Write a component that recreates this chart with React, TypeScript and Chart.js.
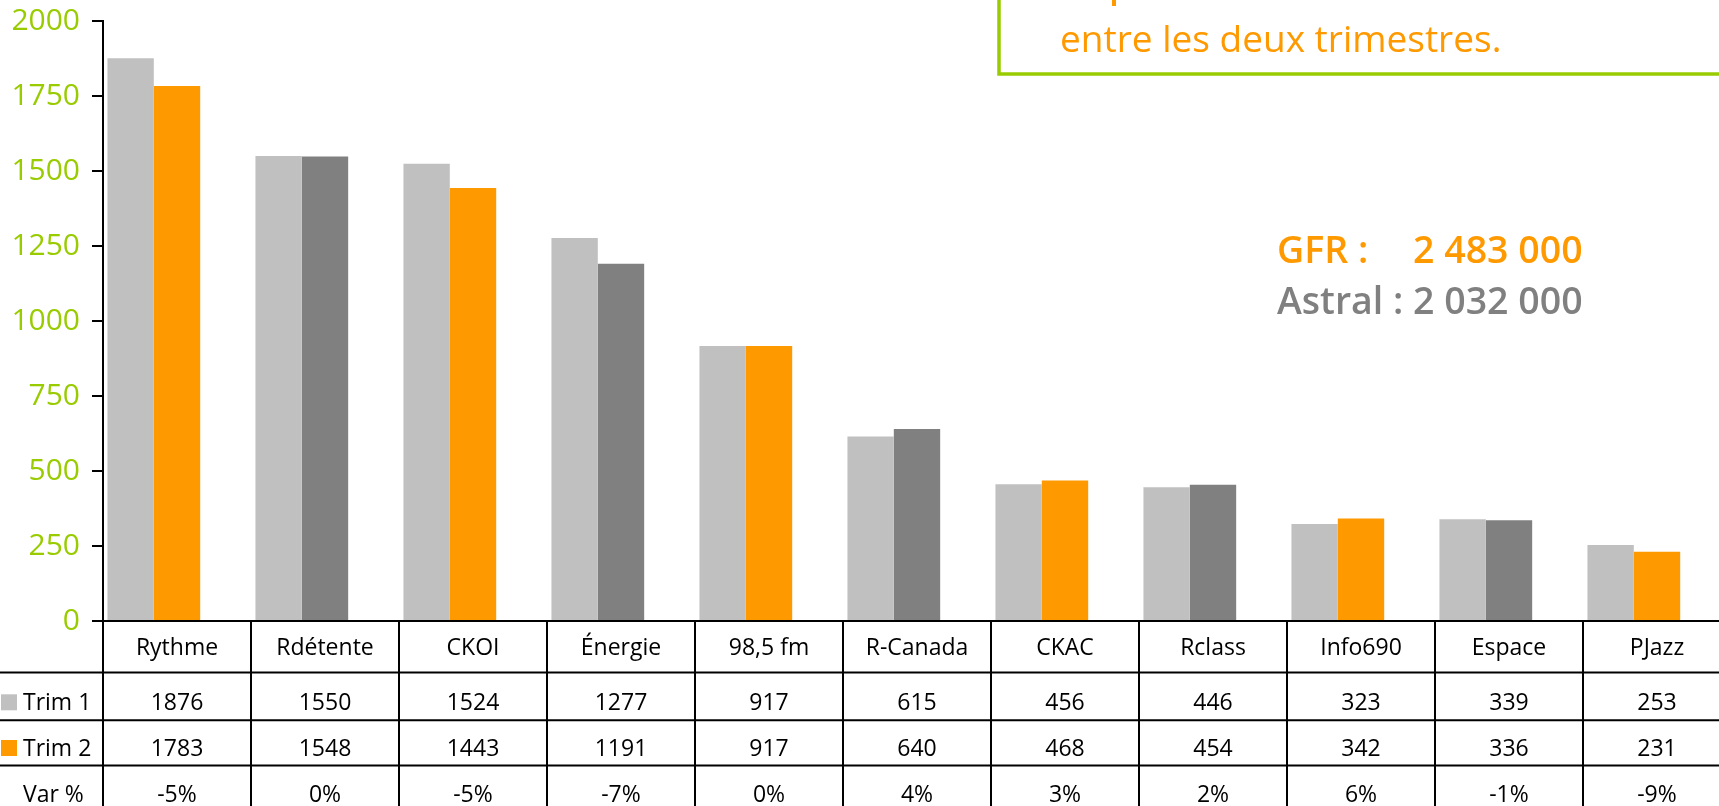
import React, { useEffect, useRef } from "react";
import { Chart, registerables } from "chart.js";

Chart.register(...registerables);

// ---------- data ----------
const categories = ["Rythme", "Rdétente", "CKOI", "Énergie", "98,5 fm", "R-Canada", "CKAC", "Rclass", "Info690", "Espace", "PJazz"];
const trim1 = [1876, 1550, 1524, 1277, 917, 615, 456, 446, 323, 339, 253];
const trim2 = [1783, 1548, 1443, 1191, 917, 640, 468, 454, 342, 336, 231];
const varPct = ["-5%", "0%", "-5%", "-7%", "0%", "4%", "3%", "2%", "6%", "-1%", "-9%"];
const owners = ["GFR", "Astral", "GFR", "Astral", "GFR", "Astral", "GFR", "Astral", "GFR", "Astral", "GFR"];
const rowLabels = ["Trim 1", "Trim 2", "Var %"];
const totalLabels = ["GFR :", "Astral :"];
const totalValues = ["2 483 000", "2 032 000"];
const noteText = "entre les deux trimestres.";
const yMin = 0;
const yMax = 2000;
const yStep = 250;

// ---------- styles ----------
const FONT = "'Open Sans', 'Noto Sans', sans-serif";
const GREEN = "#99CC00";
const ORANGE = "#FF9900";
const DARK = "#808080";
const LIGHT = "#C0C0C0";
const ownerColor: Record<string, string> = { GFR: ORANGE, Astral: DARK };

const W = 1740;
const H = 806;

const tablePlugin = {
  id: "dataTable",
  afterDraw(chart: any) {
    const ctx: CanvasRenderingContext2D = chart.ctx;
    const xs = chart.scales.x;
    const area = chart.chartArea;
    const n = categories.length;
    const cw = (area.right - area.left) / n;
    const b = area.bottom;
    const rowBottoms = [b + 51.6, b + 99.3, b + 144.6, b + 192];
    const baselines = [b + 33.6, b + 89.3, b + 135, b + 181];

    ctx.save();
    ctx.strokeStyle = "#000";
    ctx.lineWidth = 2;
    // axis (top of table)
    ctx.beginPath();
    ctx.moveTo(area.left, b);
    ctx.lineTo(W, b);
    ctx.stroke();
    // horizontal rows
    for (let r = 0; r < 3; r++) {
      ctx.beginPath();
      ctx.moveTo(0, rowBottoms[r]);
      ctx.lineTo(W, rowBottoms[r]);
      ctx.stroke();
    }
    // verticals
    for (let i = 0; i <= n; i++) {
      const x = area.left + i * cw;
      ctx.beginPath();
      ctx.moveTo(x, b);
      ctx.lineTo(x, H + 20);
      ctx.stroke();
    }

    ctx.fillStyle = "#000";
    ctx.font = `23px ${FONT}`;
    ctx.textBaseline = "alphabetic";
    ctx.textAlign = "center";
    for (let i = 0; i < n; i++) {
      const cx = xs.getPixelForValue(i);
      ctx.fillText(categories[i], cx, baselines[0]);
      ctx.fillText(String(trim1[i]), cx, baselines[1]);
      ctx.fillText(String(trim2[i]), cx, baselines[2]);
      ctx.fillText(varPct[i], cx, baselines[3]);
    }
    // row labels with legend squares
    ctx.textAlign = "left";
    const swatches = [LIGHT, ORANGE, null];
    for (let r = 0; r < 3; r++) {
      const bl = baselines[r + 1];
      if (swatches[r]) {
        ctx.fillStyle = swatches[r] as string;
        ctx.fillRect(1, bl - 16, 16, 16);
      }
      ctx.fillStyle = "#000";
      ctx.fillText(rowLabels[r], 23, bl);
    }

    // annotation box (cropped at top and right)
    ctx.strokeStyle = GREEN;
    ctx.lineWidth = 3.5;
    ctx.strokeRect(999, -30, 1000, 104);
    ctx.fillStyle = ORANGE;
    ctx.fillRect(1112, 0, 4, 6);
    ctx.font = `37px ${FONT}`;
    ctx.fillText(noteText, 1060, 51.7);

    // totals
    ctx.font = `600 37.5px ${FONT}`;
    const numX = 1277 + ctx.measureText(totalLabels[1] + " ").width;
    ctx.fillStyle = ORANGE;
    ctx.fillText(totalLabels[0], 1277, 263.3);
    ctx.fillText(totalValues[0], numX, 263.3);
    ctx.fillStyle = DARK;
    ctx.fillText(totalLabels[1] + " " + totalValues[1], 1277, 314.3);
    ctx.restore();
  },
};

export default function App() {
  const canvasRef = useRef<HTMLCanvasElement | null>(null);

  useEffect(() => {
    const canvas = canvasRef.current;
    if (!canvas) return;
    Chart.defaults.font.family = FONT;
    const chart = new Chart(canvas, {
      type: "bar",
      data: {
        labels: categories,
        datasets: [
          { label: rowLabels[0], data: trim1, backgroundColor: LIGHT, borderWidth: 0 },
          { label: rowLabels[1], data: trim2, backgroundColor: owners.map((o) => ownerColor[o]), borderWidth: 0 },
          { label: "", data: categories.map(() => null), backgroundColor: "rgba(0,0,0,0)", borderWidth: 0 },
        ],
      },
      options: {
        responsive: false,
        devicePixelRatio: 1,
        animation: false,
        events: [],
        layout: { padding: { top: 21, right: 9, bottom: 185, left: 0 } },
        datasets: { bar: { categoryPercentage: 0.94, barPercentage: 1 } } as any,
        plugins: { legend: { display: false }, tooltip: { enabled: false }, title: { display: false } },
        scales: {
          x: { display: false, offset: true },
          y: {
            min: yMin,
            max: yMax,
            afterFit: (s: any) => {
              s.width = 103;
              s.paddingTop = 0;
              s.paddingBottom = 0;
            },
            ticks: {
              stepSize: yStep,
              color: GREEN,
              padding: 12,
              font: { size: 30, family: FONT },
              callback: (v: any) => String(v),
            },
            grid: {
              drawOnChartArea: false,
              drawTicks: true,
              tickLength: 11,
              color: "#000",
              lineWidth: 2,
            },
            border: { display: true, color: "#000", width: 2 },
          },
        },
      },
      plugins: [tablePlugin],
    });
    return () => chart.destroy();
  }, []);

  return (
    <div style={{ position: "fixed", left: 0, top: 0, width: 1719, height: 806, overflow: "hidden", background: "#fff" }}>
      <canvas ref={canvasRef} width={W} height={H} style={{ width: W, height: H, display: "block" }} />
    </div>
  );
}
